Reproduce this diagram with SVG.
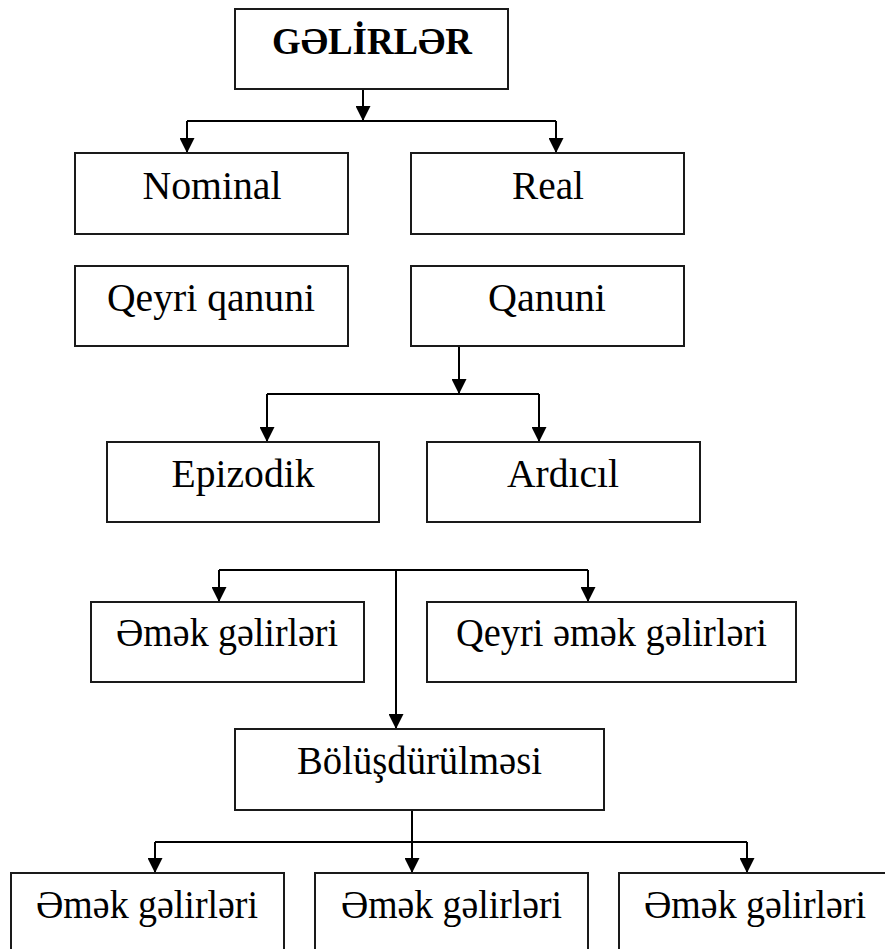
<svg xmlns="http://www.w3.org/2000/svg" width="885" height="949" viewBox="0 0 885 949">
<style>
.box{fill:#fff;stroke:#1a1a1a;stroke-width:2}
text{font-family:'Liberation Serif','Times New Roman','DejaVu Serif',serif;font-size:40px;fill:#000;text-anchor:middle}
.b{font-weight:bold;font-size:37px}
.c{fill:none;stroke:#000;stroke-width:2}
</style>
<defs>
<marker id="ah" markerUnits="userSpaceOnUse" markerWidth="15" markerHeight="15" refX="14" refY="7" orient="auto" viewBox="0 0 14 14">
<path d="M0,0 L14,7 L0,14 z" fill="#000"/>
</marker>
</defs>
<rect width="885" height="949" fill="#fff"/>
<g id="connectors">
<path class="c" d="M363,89 V121" marker-end="url(#ah)"/>
<path class="c" d="M187,121 H556"/>
<path class="c" d="M187,121 V153" marker-end="url(#ah)"/>
<path class="c" d="M556,121 V153" marker-end="url(#ah)"/>
<path class="c" d="M459,346 V394" marker-end="url(#ah)"/>
<path class="c" d="M267,394 H539"/>
<path class="c" d="M267,394 V442" marker-end="url(#ah)"/>
<path class="c" d="M539,394 V442" marker-end="url(#ah)"/>
<path class="c" d="M219,570 H588"/>
<path class="c" d="M219,570 V602" marker-end="url(#ah)"/>
<path class="c" d="M588,570 V602" marker-end="url(#ah)"/>
<path class="c" d="M396,570 V729" marker-end="url(#ah)"/>
<path class="c" d="M412,810 V873" marker-end="url(#ah)"/>
<path class="c" d="M155,842 H747"/>
<path class="c" d="M155,842 V873" marker-end="url(#ah)"/>
<path class="c" d="M747,842 V873" marker-end="url(#ah)"/>
</g>
<g id="gelirler"><rect class="box" x="235" y="9" width="273" height="80"/><text class="b" x="372" y="54" textLength="200" lengthAdjust="spacingAndGlyphs">GƏLİRLƏR</text></g>
<g id="nominal"><rect class="box" x="75" y="153" width="273" height="81"/><text x="212" y="199" textLength="139" lengthAdjust="spacingAndGlyphs">Nominal</text></g>
<g id="real"><rect class="box" x="411" y="153" width="273" height="81"/><text x="548" y="199" textLength="72" lengthAdjust="spacingAndGlyphs">Real</text></g>
<g id="qeyri-qanuni"><rect class="box" x="75" y="266" width="273" height="80"/><text x="211" y="311" textLength="208" lengthAdjust="spacingAndGlyphs">Qeyri qanuni</text></g>
<g id="qanuni"><rect class="box" x="411" y="266" width="273" height="80"/><text x="547" y="311" textLength="118" lengthAdjust="spacingAndGlyphs">Qanuni</text></g>
<g id="epizodik"><rect class="box" x="107" y="442" width="272" height="80"/><text x="243" y="487" textLength="143" lengthAdjust="spacingAndGlyphs">Epizodik</text></g>
<g id="ardicil"><rect class="box" x="427" y="442" width="273" height="80"/><text x="563" y="487" textLength="112" lengthAdjust="spacingAndGlyphs">Ardıcıl</text></g>
<g id="emek"><rect class="box" x="91" y="602" width="273" height="80"/><text x="227" y="646" textLength="222" lengthAdjust="spacingAndGlyphs">Əmək gəlirləri</text></g>
<g id="qeyri-emek"><rect class="box" x="427" y="602" width="369" height="80"/><text x="611.5" y="646" textLength="311" lengthAdjust="spacingAndGlyphs">Qeyri əmək gəlirləri</text></g>
<g id="bolusdurulmesi"><rect class="box" x="235" y="729" width="369" height="81"/><text x="419.5" y="774" textLength="245" lengthAdjust="spacingAndGlyphs">Bölüşdürülməsi</text></g>
<g id="emek1"><rect class="box" x="11" y="873" width="273" height="82"/><text x="147" y="918" textLength="222" lengthAdjust="spacingAndGlyphs">Əmək gəlirləri</text></g>
<g id="emek2"><rect class="box" x="315" y="873" width="273" height="82"/><text x="451.5" y="918" textLength="221" lengthAdjust="spacingAndGlyphs">Əmək gəlirləri</text></g>
<g id="emek3"><rect class="box" x="619" y="873" width="272" height="82"/><text x="755" y="918" textLength="222" lengthAdjust="spacingAndGlyphs">Əmək gəlirləri</text></g>
</svg>
